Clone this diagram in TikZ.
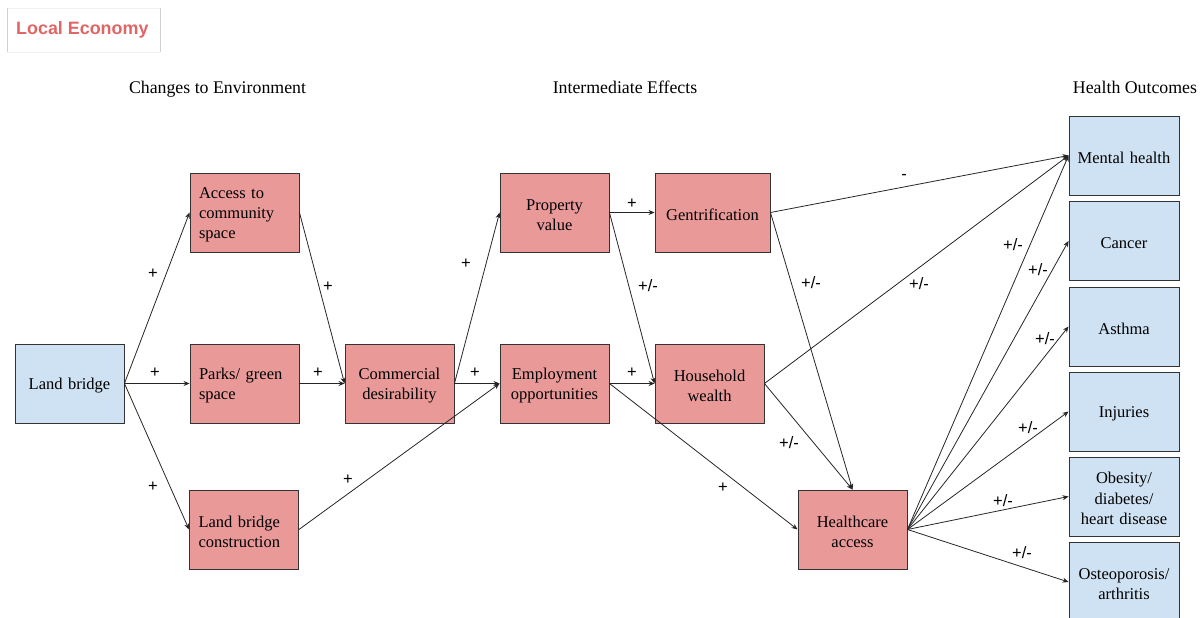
\documentclass[tikz,border=0pt]{standalone}
\usepackage{fontspec}
\setmainfont{Liberation Serif}
\setsansfont{Liberation Sans}
\usetikzlibrary{arrows.meta}
\definecolor{boxred}{HTML}{EA9999}
\definecolor{boxblue}{HTML}{CFE2F3}
\definecolor{tabred}{HTML}{E06666}
\definecolor{boxline}{HTML}{333333}
\definecolor{tabline}{HTML}{D0D0D0}

\begin{document}
\begin{tikzpicture}[x=1pt,y=-1pt,
  box/.style={draw=boxline, line width=0.9pt, minimum width=109pt, minimum height=79pt,
    inner sep=0pt, text width=105pt, align=center, font=\fontsize{16.5}{20.2}\selectfont,
    execute at begin node={\rule{0pt}{15.5pt}}},
  redbox/.style={box, fill=boxred},
  bluebox/.style={box, fill=boxblue},
  leftbox/.style={redbox, text width=91pt, align=left},
  title/.style={font=\fontsize{17.8}{20}\selectfont, inner sep=0pt, anchor=base},
  lbl/.style={font=\sffamily\fontsize{16.5}{18}\selectfont, inner sep=0pt},
  link/.style={draw=black!85, line width=0.8pt, -{Stealth[length=6pt,width=5pt]}}
]
\useasboundingbox (0,0) rectangle (1203,618);

% tab header
\fill[white] (7,8) rectangle (160,52);
\draw[black!6, line width=0.8pt] (7,8) -- (160,8) (7,52) -- (160,52);
\draw[tabline, line width=0.9pt] (7,8) -- (7,52) (160,8) -- (160,52);
\node[anchor=base west, inner sep=0pt, text=tabred, font=\sffamily\bfseries\fontsize{17.9}{20}\selectfont] (tab) at (16,35) {Local Economy};

% column titles
\node[title] (t1) at (217.5,93) {Changes to Environment};
\node[title] (t2) at (625,93) {Intermediate Effects};
\node[title] (t3) at (1135,93) {Health Outcomes};

% boxes
\node[bluebox] (lb) at (69.5,383.5) {Land bridge};
\node[leftbox] (acc) at (244.5,212.5) {Access to\\community\\space};
\node[leftbox] (park) at (244.5,383.5) {Parks/ green\\space};
\node[leftbox] (lbc) at (244,529.5) {Land bridge\\construction};
\node[redbox] (com) at (399.5,383.5) {Commercial\\desirability};
\node[redbox] (prop) at (554.5,212.5) {Property\\value};
\node[redbox] (emp) at (554.5,383.5) {Employment\\opportunities};
\node[redbox, minimum width=115pt] (gen) at (712.5,212.5) {Gentrification};
\node[redbox] (hw) at (709.5,383.5) {Household\\wealth};
\node[redbox] (hc) at (852.5,529.5) {Healthcare\\access};

\node[bluebox, minimum width=110pt] (mh) at (1124,155.5) {Mental health};
\node[bluebox, minimum width=110pt] (can) at (1124,241) {Cancer};
\node[bluebox, minimum width=110pt] (ast) at (1124,326.5) {Asthma};
\node[bluebox, minimum width=110pt] (inj) at (1124,411.5) {Injuries};
\node[bluebox, minimum width=110pt] (obe) at (1124,496.5) {Obesity/\\diabetes/\\heart disease};
\node[bluebox, minimum width=110pt] (ost) at (1124,582) {Osteoporosis/\\arthritis};

% connectors
\draw[link] (lb.east) -- (acc.west);
\draw[link] (lb.east) -- (park.west);
\draw[link] (lb.east) -- (lbc.west);
\draw[link] (acc.east) -- (com.west);
\draw[link] (park.east) -- (com.west);
\draw[link] (com.east) -- (prop.west);
\draw[link] (com.east) -- (emp.west);
\draw[link] (lbc.east) -- (emp.west);
\draw[link] (prop.east) -- (gen.west);
\draw[link] (prop.east) -- (hw.west);
\draw[link] (emp.east) -- (hw.west);
\draw[link] (emp.east) -- (hc.west);
\draw[link] (gen.east) -- (mh.west);
\draw[link] (gen.east) -- (hc.north);
\draw[link] (hw.east) -- (mh.west);
\draw[link] (hw.east) -- (hc.north);
\draw[link] (hc.east) -- (mh.west);
\draw[link] (hc.east) -- (can.west);
\draw[link] (hc.east) -- (ast.west);
\draw[link] (hc.east) -- (inj.west);
\draw[link] (hc.east) -- (obe.west);
\draw[link] (hc.east) -- (ost.west);

% connector labels
\node[lbl] (l1) at (153,274) {+};
\node[lbl] (l2) at (155,373) {+};
\node[lbl] (l3) at (153,487) {+};
\node[lbl] (l4) at (328,287) {+};
\node[lbl] (l5) at (318,373) {+};
\node[lbl] (l6) at (466,264) {+};
\node[lbl] (l7) at (475,373) {+};
\node[lbl] (l8) at (348,480) {+};
\node[lbl] (l9) at (632,204) {+};
\node[lbl] (l10) at (648,286) {+/-};
\node[lbl] (l11) at (632,373) {+};
\node[lbl] (l12) at (723,488) {+};
\node[lbl] (l13) at (904,177) {-};
\node[lbl] (l14) at (811,283) {+/-};
\node[lbl] (l15) at (919,284) {+/-};
\node[lbl] (l16) at (789,443) {+/-};
\node[lbl] (l17) at (1013,245) {+/-};
\node[lbl] (l18) at (1038,270) {+/-};
\node[lbl] (l19) at (1045,339) {+/-};
\node[lbl] (l20) at (1028,428) {+/-};
\node[lbl] (l21) at (1003,501) {+/-};
\node[lbl] (l22) at (1022,553) {+/-};
\end{tikzpicture}
\end{document}
